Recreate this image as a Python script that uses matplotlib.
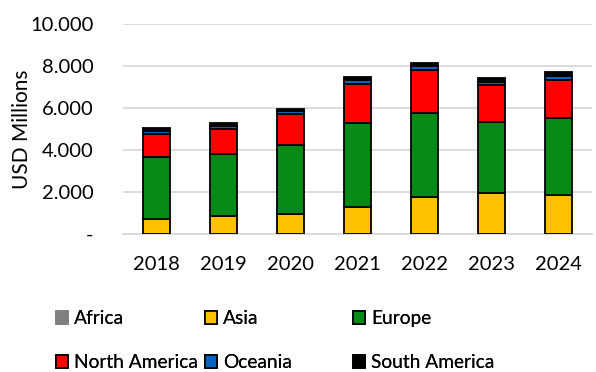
import matplotlib
matplotlib.use("Agg")
import matplotlib.pyplot as plt
import numpy as np
from matplotlib.patches import Patch
from matplotlib.ticker import FuncFormatter

years = ["2018", "2019", "2020", "2021", "2022", "2023", "2024"]
africa = [20, 20, 20, 20, 20, 20, 20]
asia = [700, 825, 920, 1255, 1730, 1920, 1845]
europe = [2945, 2975, 3300, 4015, 3990, 3400, 3680]
north_america = [1115, 1200, 1465, 1850, 2070, 1750, 1785]
oceania = [130, 140, 140, 180, 180, 170, 210]
south_america = [140, 130, 130, 140, 140, 150, 170]

series = [
    ("Africa", africa, "#808080", False),
    ("Asia", asia, "#FFC000", True),
    ("Europe", europe, "#058A17", True),
    ("North America", north_america, "#FF0000", True),
    ("Oceania", oceania, "#0563C1", True),
    ("South America", south_america, "#000000", True),
]

plt.rcParams["font.family"] = ["Lato", "DejaVu Sans"]

fig = plt.figure(figsize=(5.96, 3.72), dpi=100)
ax = fig.add_axes([0.206, 0.371, 0.787, 0.5645])

x = np.arange(len(years))
bottom = np.zeros(len(years))
for name, vals, color, edged in series:
    vals = np.array(vals, dtype=float)
    ax.bar(x, vals, width=0.4, bottom=bottom, color=color,
           edgecolor="black" if edged else color, linewidth=1.3, zorder=3)
    bottom += vals

ax.set_xlim(-0.5, len(years) - 0.5)
ax.set_ylim(0, 10000)
ax.set_yticks(np.arange(0, 10001, 2000))


def fmt(v, _):
    if v == 0:
        return "-"
    return f"{int(v):,}".replace(",", ".")


ax.yaxis.set_major_formatter(FuncFormatter(fmt))
ax.set_xticks(x)
ax.set_xticklabels(years)
ax.tick_params(axis="both", length=0, labelsize=14.5, colors="black")
ax.tick_params(axis="x", pad=16)
ax.tick_params(axis="y", pad=21)
ax.grid(axis="y", color="#d9d9d9", linewidth=1.3, zorder=0)
for side in ["top", "right", "left"]:
    ax.spines[side].set_visible(False)
ax.spines["bottom"].set_color("#d9d9d9")
ax.spines["bottom"].set_linewidth(1.3)
ax.set_ylabel("USD Millions", fontsize=15)
ax.yaxis.set_label_coords(-(123 - 32) / (0.787 * 596), 0.5)

# Legend laid out as three fixed-width columns
handles = []
for name, vals, color, edged in series:
    handles.append(Patch(facecolor=color, edgecolor="black" if edged else color,
                         linewidth=1.2, label=name))
col_x = [56 / 596, 205 / 596, 353 / 596]
for c in range(3):
    hs = [handles[c], handles[c + 3]]
    leg = fig.legend(handles=hs, loc="upper left",
                     bbox_to_anchor=(col_x[c], 0.166), frameon=False,
                     fontsize=13.8, borderpad=0, handlelength=0.65,
                     handleheight=0.65, handletextpad=0.3, labelspacing=1.4,
                     borderaxespad=0)
    fig.add_artist(leg)

fig.savefig("out.png", dpi=100)
